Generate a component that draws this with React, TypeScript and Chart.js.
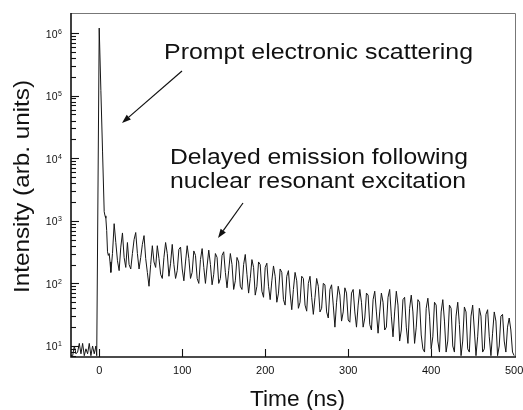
import React, { useEffect, useRef } from "react";
import { Chart, registerables } from "chart.js";

Chart.register(...registerables);

// ---------- data ----------
const promptTimes = [
  -34, -32, -30, -28, -26, -24, -22, -20, -18, -16, -14, -12, -10, -8, -6, -4, -3,
  0, 2, 4, 6, 7, 8, 9, 10, 11, 12, 13, 14,
];
const promptValues = [
  7, 7, 10, 7.5, 8, 11, 7.5, 11, 7, 9, 7.5, 11, 7, 10, 7.5, 10, 7,
  1200000, 120000, 13000, 1400, 1200, 1100, 700, 320, 280, 300, 220, 150,
];

const delayedStart = 16; // ns
const delayedStep = 2; // ns
const delayedValues = [
  300, 900, 450, 230, 160, 380, 640, 260, 180, 450,
  200, 170, 300, 500, 650, 300, 170, 260, 420, 580,
  250, 150, 90, 200, 400, 220, 180, 400, 250, 140,
  120, 260, 450, 300, 130, 210, 420, 200, 120, 160,
  350, 380, 170, 110, 220, 400, 250, 120, 150, 330,
  280, 120, 100, 240, 360, 180, 100, 190, 340, 200,
  95, 140, 300, 260, 100, 120, 280, 320, 150, 85,
  160, 300, 200, 80, 110, 260, 220, 90, 80, 200,
  290, 140, 70, 120, 240, 180, 65, 90, 220, 200,
  75, 60, 180, 210, 90, 55, 110, 190, 130, 50,
  70, 170, 150, 55, 45, 130, 160, 70, 38, 80,
  150, 110, 40, 50, 130, 120, 45, 36, 100, 130,
  60, 32, 60, 120, 90, 35, 40, 100, 95, 35,
  28, 80, 95, 45, 20, 50, 90, 65, 25, 35,
  85, 70, 26, 24, 70, 80, 35, 20, 45, 80,
  50, 20, 28, 70, 65, 22, 18, 55, 75, 35,
  16, 35, 70, 50, 18, 20, 60, 80, 30, 14,
  35, 75, 45, 12, 18, 55, 60, 20, 11, 40,
  65, 35, 11, 20, 55, 50, 15, 9, 8, 40,
  58, 30, 9, 14, 50, 45, 12, 8, 35, 55,
  25, 8, 12, 45, 40, 10, 8, 30, 50, 22,
  7, 12, 42, 35, 9, 8, 30, 45, 18, 7,
  14, 40, 30, 8, 9, 32, 38, 14, 7, 16,
  35, 25, 7, 10, 30, 32, 12, 8, 20, 28,
  18, 8, 7,
];

const xTickValues = [0, 100, 200, 300, 400, 500];
const yTickExponents = [1, 2, 3, 4, 5, 6];

const xTitle = "Time (ns)";
const yTitle = "Intensity (arb. units)";
const promptLabel = "Prompt electronic scattering";
const delayedLabel1 = "Delayed emission following";
const delayedLabel2 = "nuclear resonant excitation";

// ---------- helpers ----------
const FONT = '"Liberation Sans", Arial, Helvetica, sans-serif';
const SUP: Record<string, string> = { "1": "1", "2": "2", "3": "3", "4": "4", "5": "5", "6": "6" };

function stretchText(ctx: CanvasRenderingContext2D, text: string, x: number, y: number, width: number) {
  const w = ctx.measureText(text).width;
  ctx.save();
  ctx.translate(x, y);
  ctx.scale(width / w, 1);
  ctx.textAlign = "left";
  ctx.fillText(text, 0, 0);
  ctx.restore();
}

function arrow(ctx: CanvasRenderingContext2D, x1: number, y1: number, x2: number, y2: number) {
  const ang = Math.atan2(y2 - y1, x2 - x1);
  const L = 9, W = 3.2;
  const bx = x2 - L * Math.cos(ang), by = y2 - L * Math.sin(ang);
  ctx.beginPath();
  ctx.moveTo(x1, y1);
  ctx.lineTo(bx, by);
  ctx.stroke();
  ctx.beginPath();
  ctx.moveTo(x2, y2);
  ctx.lineTo(bx + W * Math.sin(ang), by - W * Math.cos(ang));
  ctx.lineTo(bx - W * Math.sin(ang), by + W * Math.cos(ang));
  ctx.closePath();
  ctx.fill();
}

const decorPlugin = {
  id: "decor",
  beforeDraw(chart: any) {
    const ctx = chart.ctx as CanvasRenderingContext2D;
    ctx.save();
    ctx.fillStyle = "#fff";
    ctx.fillRect(0, 0, chart.width, chart.height);
    ctx.restore();
  },
  afterDraw(chart: any) {
    const ctx = chart.ctx as CanvasRenderingContext2D;
    const { left, right, top, bottom } = chart.chartArea;
    const xs = chart.scales.x;
    const ys = chart.scales.y;
    ctx.save();

    // frame: thin grey top/right, dark left/bottom
    ctx.strokeStyle = "#777";
    ctx.lineWidth = 1;
    ctx.beginPath();
    ctx.moveTo(left, top + 0.5);
    ctx.lineTo(right + 0.5, top + 0.5);
    ctx.lineTo(right + 0.5, bottom);
    ctx.stroke();
    ctx.strokeStyle = "#111";
    ctx.lineWidth = 1.6;
    ctx.beginPath();
    ctx.moveTo(left, top);
    ctx.lineTo(left, bottom);
    ctx.lineTo(right + 1, bottom);
    ctx.stroke();

    // y ticks (inside) with minor log ticks
    ctx.lineWidth = 1.1;
    for (const e of yTickExponents) {
      const base = Math.pow(10, e);
      const y = Math.round(ys.getPixelForValue(base)) + 0.5;
      ctx.beginPath();
      ctx.moveTo(left, y);
      ctx.lineTo(left + 8, y);
      ctx.stroke();
    }
    for (let e = 0; e <= 5; e++) {
      for (let k = 2; k <= 9; k++) {
        const v = k * Math.pow(10, e);
        if (v < ys.min || v > ys.max) continue;
        const y = Math.round(ys.getPixelForValue(v)) + 0.5;
        ctx.beginPath();
        ctx.moveTo(left, y);
        ctx.lineTo(left + 5, y);
        ctx.stroke();
      }
    }
    // x ticks (inside)
    for (const t of xTickValues) {
      const x = Math.round(xs.getPixelForValue(t)) + 0.5;
      if (x > right - 1) continue;
      ctx.beginPath();
      ctx.moveTo(x, bottom);
      ctx.lineTo(x, bottom - 8);
      ctx.stroke();
    }

    ctx.fillStyle = "#111";
    // x tick labels
    ctx.font = `11px ${FONT}`;
    ctx.textAlign = "center";
    ctx.textBaseline = "alphabetic";
    for (const t of xTickValues) {
      ctx.fillText(String(t), xs.getPixelForValue(t), 374);
    }
    // y tick labels 10^n
    for (const e of yTickExponents) {
      const y = ys.getPixelForValue(Math.pow(10, e));
      ctx.font = `10.5px ${FONT}`;
      ctx.textAlign = "right";
      ctx.fillText("10", 57.5, y + 4.5);
      ctx.font = `7px ${FONT}`;
      ctx.textAlign = "left";
      ctx.fillText(SUP[String(e)], 58, y + 0.5);
    }

    // axis titles
    ctx.font = `22px ${FONT}`;
    ctx.textBaseline = "alphabetic";
    stretchText(ctx, xTitle, 250, 406, 95);
    ctx.save();
    ctx.translate(29, 293);
    ctx.rotate(-Math.PI / 2);
    stretchText(ctx, yTitle, 0, 0, 213);
    ctx.restore();

    // annotations
    ctx.font = `22px ${FONT}`;
    stretchText(ctx, promptLabel, 164, 59, 309);
    stretchText(ctx, delayedLabel1, 170, 164, 298);
    stretchText(ctx, delayedLabel2, 170, 188, 296);

    ctx.strokeStyle = "#111";
    ctx.fillStyle = "#111";
    ctx.lineWidth = 1.2;
    arrow(ctx, 182, 71, 122, 123);
    arrow(ctx, 243, 203, 218, 238);

    ctx.restore();
  },
};

export default function App() {
  const canvasRef = useRef<HTMLCanvasElement>(null);

  useEffect(() => {
    document.body.style.margin = "0";
    const points: { x: number; y: number }[] = [];
    promptTimes.forEach((t, i) => points.push({ x: t, y: promptValues[i] }));
    delayedValues.forEach((v, i) => points.push({ x: delayedStart + i * delayedStep, y: v }));

    const chart = new Chart(canvasRef.current as HTMLCanvasElement, {
      type: "line",
      data: {
        datasets: [
          {
            data: points,
            borderColor: "#161616",
            borderWidth: 1,
            pointRadius: 0,
            tension: 0,
            fill: false,
          },
        ],
      },
      options: {
        responsive: false,
        animation: false,
        layout: { padding: { left: 71, top: 13, right: 8, bottom: 53 } },
        plugins: { legend: { display: false }, tooltip: { enabled: false }, title: { display: false } },
        scales: {
          x: { type: "linear", min: -34, max: 501, display: false },
          y: { type: "logarithmic", min: 6.67, max: 2.09e6, display: false },
        },
      },
      plugins: [decorPlugin],
    });
    return () => chart.destroy();
  }, []);

  return (
    <div style={{ width: 523, height: 410, background: "#fff" }}>
      <canvas ref={canvasRef} width={523} height={410} style={{ display: "block" }} />
    </div>
  );
}
